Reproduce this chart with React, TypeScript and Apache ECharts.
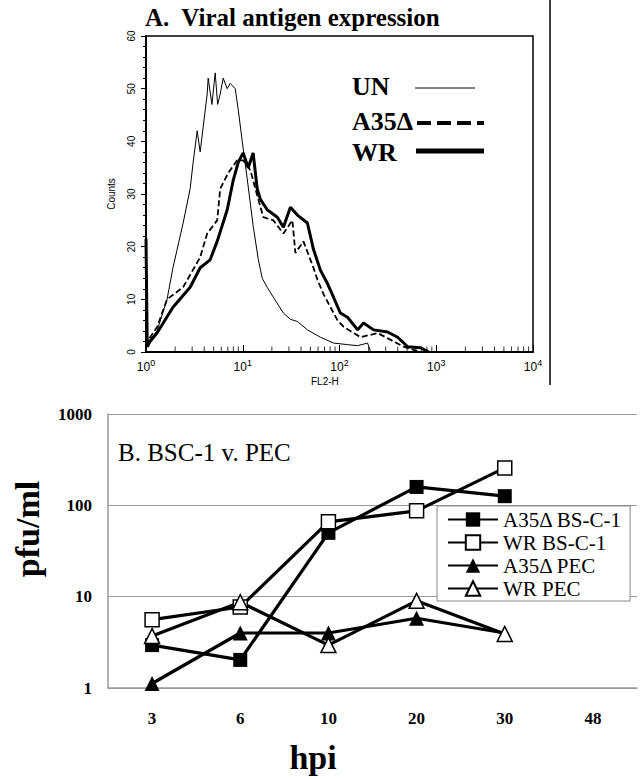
import React, { useEffect, useRef } from "react";
import * as echarts from "echarts";

// ---------- Panel A: flow cytometry histograms (FL2-H, counts) ----------
const unHist: [number, number][] = [
  [1.0, 2], [1.1, 2.3], [1.3, 4], [1.65, 10], [1.9, 16], [2.42, 24.5], [2.86, 31], [3.07, 36],
  [3.38, 42], [3.63, 38], [4.29, 49], [4.39, 52], [4.8, 47], [5.19, 53], [5.5, 47], [5.85, 49],
  [6.28, 52], [6.9, 50], [7.42, 51], [8.36, 50], [8.98, 46], [9.88, 40], [11.1, 33], [12.8, 24],
  [14.5, 17.5], [15.9, 14], [17.9, 12.3], [20.7, 10.4], [26.3, 7.4], [31.1, 6.2], [36.7, 5.8],
  [46.6, 4.2], [63.6, 2.8], [86.7, 1.7], [121, 1.4], [154, 1.2], [195, 1.7], [210, 0], [1000, 0],
];
const a35Hist: [number, number][] = [
  [1.0, 11.5], [1.03, 2], [1.3, 4.7], [1.65, 10], [2.42, 12.3], [3.63, 18], [4.29, 22.5],
  [5.44, 25], [5.85, 31], [7.08, 34], [8.77, 36.4], [10.1, 36.4], [12.0, 34.5], [13.5, 31],
  [16.3, 25.6], [20.7, 25], [26.3, 22.5], [32.6, 25], [35.0, 18.8], [42.4, 21], [53.8, 16],
  [59.2, 13.7], [68.3, 11], [95.4, 6], [110, 4.8], [165, 2.8], [248, 3.6], [338, 2.3],
  [460, 1], [585, 0.4], [700, 0],
];
const wrHist: [number, number][] = [
  [1.0, 21.5], [1.03, 1], [1.1, 2], [1.3, 3.6], [1.9, 8.5], [2.86, 12.3], [3.63, 16], [4.6, 17.5],
  [5.44, 21], [6.91, 27], [7.97, 32.6], [8.98, 36], [10.1, 37.8], [11.4, 35], [12.8, 37.8],
  [14.1, 31], [15.2, 29], [17.9, 27], [22.8, 25.6], [26.3, 23.7], [31.1, 27.5], [36.7, 26],
  [46.6, 24.5], [53.8, 19.5], [63.6, 15.5], [75.1, 13], [86.7, 10.4], [102, 7.4], [121, 6.6],
  [154, 4.2], [177, 5.5], [225, 4.2], [314, 3.8], [399, 2.8], [507, 1], [691, 0.8], [836, 0],
];
const flMinorTicks = [
  2, 3, 4, 5, 6, 7, 8, 9, 20, 30, 40, 50, 60, 70, 80, 90,
  200, 300, 400, 500, 600, 700, 800, 900, 2000, 3000, 4000, 5000, 6000, 7000, 8000, 9000,
];

// ---------- Panel B: virus titres ----------
const hpiCats = ["3", "6", "10", "20", "30", "48"];
const a35BSC = [2.95, 2.03, 50, 159, 126, null];
const wrBSC = [5.6, 7.7, 66, 87, 257, null];
const a35PEC = [1.12, 4.0, 4.0, 5.8, 4.0, null];
const wrPEC = [3.7, 8.7, 2.95, 9.0, 3.9, null];

const SERIF = "Liberation Serif";
const SANS = "Liberation Sans";

const txt = (x: number, y: number, text: string, size: number, weight: string, family: string, extra: any = {}) => ({
  type: "text",
  x,
  y,
  ...extra,
  style: {
    text,
    fontSize: size,
    fontWeight: weight,
    fontFamily: family,
    fill: "#000",
    verticalAlign: "middle",
    align: extra.align || "left",
  },
});

export default function App() {
  const ref = useRef<HTMLDivElement>(null);
  useEffect(() => {
    if (!ref.current) return;
    const chart = echarts.init(ref.current, null, { renderer: "svg" });
    const bLine = (name: string, data: any[], symbol: string, filled: boolean) => ({
      name,
      type: "line",
      xAxisIndex: 1,
      yAxisIndex: 1,
      data,
      symbol,
      symbolSize: symbol === "rect" ? 14 : 15,
      lineStyle: { color: "#000", width: 3.2 },
      itemStyle: { color: filled ? "#000" : "#fff", borderColor: "#000", borderWidth: filled ? 0 : 1.5 },
      z: 3,
    });
    chart.setOption({
      animation: false,
      backgroundColor: "#fff",
      grid: [
        { left: 146, top: 36, width: 387, height: 316, show: true, borderColor: "#000", borderWidth: 1.5, backgroundColor: "transparent" },
        { left: 108, top: 414, width: 529, height: 274 },
      ],
      xAxis: [
        {
          gridIndex: 0,
          type: "log",
          logBase: 10,
          min: 1,
          max: 10000,
          axisLine: { lineStyle: { color: "#000", width: 2 } },
          axisTick: { inside: true, length: 7, lineStyle: { color: "#000", width: 1 } },
          splitLine: { show: false },
          axisLabel: {
            margin: 6,
            formatter: (v: number) => `{b|10}{s|${Math.round(Math.log10(v))}}`,
            rich: {
              b: { fontSize: 12, fontFamily: SANS, color: "#000" },
              s: { fontSize: 9, fontFamily: SANS, color: "#000", padding: [0, 0, 8, 0] },
            },
          },
        },
        {
          gridIndex: 1,
          type: "category",
          data: hpiCats,
          boundaryGap: true,
          axisLine: { lineStyle: { color: "#999", width: 1.5 } },
          axisTick: { length: 6, lineStyle: { color: "#999" } },
          axisLabel: { margin: 22, fontSize: 17, fontWeight: "bold", fontFamily: SERIF, color: "#000" },
        },
      ],
      yAxis: [
        {
          gridIndex: 0,
          type: "value",
          min: 0,
          max: 60,
          interval: 10,
          axisLine: { show: true, lineStyle: { color: "#000", width: 2 } },
          axisTick: { show: true, length: 5, lineStyle: { color: "#000" } },
          minorTick: { show: true, splitNumber: 5, length: 3, lineStyle: { color: "#000" } },
          splitLine: { show: false },
          axisLabel: { rotate: 90, margin: 10, fontSize: 10, fontFamily: SANS, color: "#000" },
          name: "Counts",
          nameLocation: "middle",
          nameRotate: 90,
          nameGap: 30,
          nameTextStyle: { fontSize: 10, fontFamily: SANS, color: "#000" },
        },
        {
          gridIndex: 1,
          type: "log",
          logBase: 10,
          min: 1,
          max: 1000,
          axisLine: { show: true, lineStyle: { color: "#999", width: 1.5 } },
          axisTick: { show: false },
          splitLine: { show: true, lineStyle: { color: "#999", width: 1.2 } },
          axisLabel: {
            margin: 16,
            fontSize: 17,
            fontWeight: "bold",
            fontFamily: SERIF,
            color: "#000",
            formatter: (v: number) => String(Math.round(v)),
          },
        },
      ],
      legend: {
        data: ["A35Δ BS-C-1", "WR BS-C-1", "A35Δ PEC", "WR PEC"],
        orient: "vertical",
        left: 437,
        top: 506,
        padding: [3, 8, 2, 10],
        itemGap: 2,
        itemWidth: 50,
        itemHeight: 18,
        borderColor: "#888",
        borderWidth: 1,
        backgroundColor: "#fff",
        textStyle: { fontSize: 21, fontFamily: SERIF, color: "#000", lineHeight: 20 },
      },
      series: [
        {
          name: "UN",
          type: "line",
          data: unHist,
          showSymbol: false,
          symbol: "none",
          lineStyle: { color: "#000", width: 1 },
          z: 2,
        },
        {
          name: "A35Δ",
          type: "line",
          data: a35Hist,
          showSymbol: false,
          symbol: "none",
          lineStyle: { color: "#000", width: 1.8, type: [6, 3] },
          z: 3,
        },
        {
          name: "WR",
          type: "line",
          data: wrHist,
          showSymbol: false,
          symbol: "none",
          lineStyle: { color: "#000", width: 3 },
          z: 4,
        },
        {
          name: "flMinorTicks",
          type: "scatter",
          xAxisIndex: 0,
          yAxisIndex: 0,
          silent: true,
          clip: false,
          z: 10,
          symbol: "rect",
          symbolSize: [1, 5],
          symbolOffset: [0, -3],
          itemStyle: { color: "#000" },
          data: flMinorTicks.map((v) => [v, 0]),
        },
        bLine("A35Δ BS-C-1", a35BSC, "rect", true),
        bLine("WR BS-C-1", wrBSC, "rect", false),
        bLine("A35Δ PEC", a35PEC, "triangle", true),
        bLine("WR PEC", wrPEC, "triangle", false),
      ],
      graphic: [
        txt(145, 17, "A.  Viral antigen expression", 25, "bold", SERIF),
        { type: "line", shape: { x1: 550, y1: 0, x2: 550, y2: 385 }, style: { stroke: "#000", lineWidth: 1.5 } },
        txt(352, 86, "UN", 26, "bold", SERIF),
        { type: "line", shape: { x1: 415, y1: 88, x2: 475, y2: 88 }, style: { stroke: "#000", lineWidth: 1 } },
        txt(352, 121, "A35Δ", 26, "bold", SERIF),
        { type: "line", shape: { x1: 417, y1: 123, x2: 484, y2: 123 }, style: { stroke: "#000", lineWidth: 4, lineDash: [14, 6] } },
        txt(352, 152, "WR", 26, "bold", SERIF),
        { type: "line", shape: { x1: 416, y1: 151, x2: 484, y2: 151 }, style: { stroke: "#000", lineWidth: 5 } },
        txt(311, 381, "FL2-H", 10, "normal", SANS),
        txt(118, 452, "B. BSC-1 v. PEC", 25, "normal", SERIF),
        txt(27, 529, "pfu/ml", 34, "bold", SERIF, { rotation: Math.PI / 2, align: "center" }),
        txt(313, 757, "hpi", 34, "bold", SERIF, { align: "center" }),
      ],
    });
    return () => chart.dispose();
  }, []);
  return <div ref={ref} style={{ position: "fixed", left: 0, top: 0, width: 640, height: 779 }} />;
}
